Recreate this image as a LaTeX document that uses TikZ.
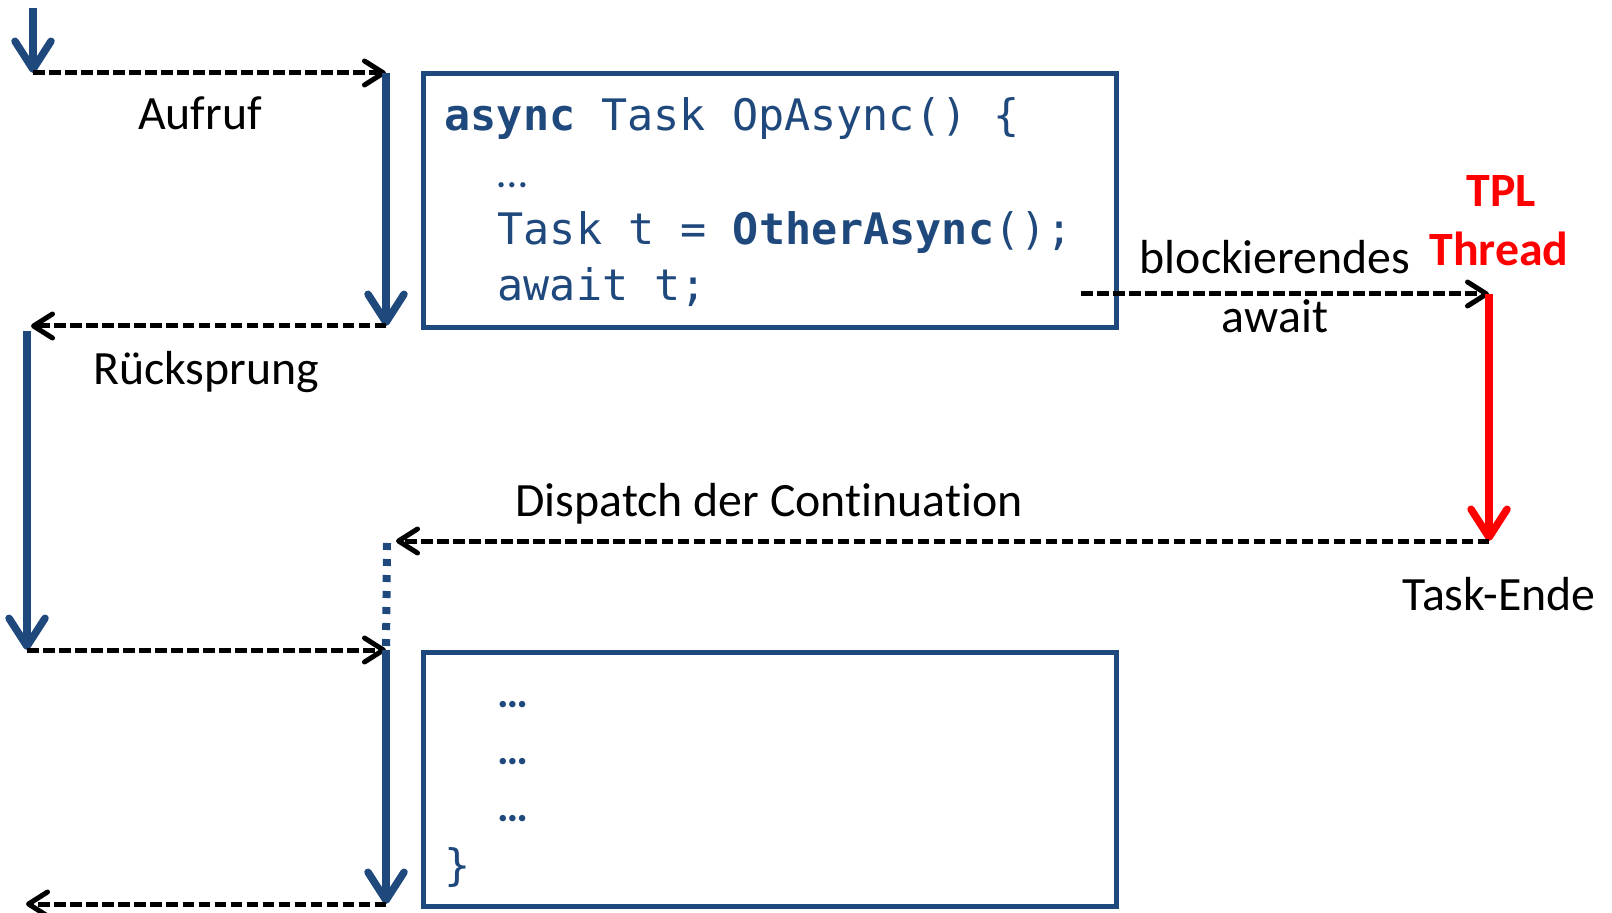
\documentclass[tikz,border=0pt]{standalone}
\usepackage{fontspec}
\setmainfont[Ligatures={NoCommon,NoRare,NoContextual}, Contextuals=NoAlternate]{Carlito}
\newfontfamily\codefont{DejaVu Sans Mono}
\usetikzlibrary{arrows.meta}
\definecolor{codeblue}{HTML}{1F497D}

\begin{document}
\begin{tikzpicture}[
	flow/.style={codeblue, line width=0.075cm, -{Straight Barb[length=0.28cm, width=0.36cm, round]}},
	jump/.style={black, line width=0.05cm, dash pattern=on 0.115cm off 0.045cm, -{Straight Barb[length=0.19cm, width=0.24cm, round]}},
	codebox/.style={draw=codeblue, line width=0.05cm, anchor=north west, minimum width=6.93cm, minimum height=2.54cm, inner sep=0, outer sep=0},
	code/.style={codeblue, anchor=base west, inner sep=0, font=\codefont\fontsize{12.35}{14}\selectfont},
	dots/.style={codeblue, anchor=base west, inner sep=0, font=\fontsize{12.35}{14}\selectfont},
	lbl/.style={inner sep=0, font=\fontsize{13.6}{16}\selectfont}
]
	\useasboundingbox (0,0) rectangle (16.12,9.12);

%points of the flow
	\coordinate (top) at (0.33,9.04);
	\coordinate (call) at (0.33,8.39);
	\coordinate (opIn) at (3.86,8.39);
	\coordinate (opOut) at (3.86,5.86);
	\coordinate (back) at (0.31,5.86);
	\coordinate (mainGo) at (0.27,5.81);
	\coordinate (mainStop) at (0.27,2.62);
	\coordinate (resume) at (3.86,2.62);
	\coordinate (opEnd) at (3.86,0.08);
	\coordinate (backEnd) at (0.26,0.08);
	\coordinate (awaitFrom) at (10.81,6.18);
	\coordinate (tplStart) at (14.89,6.18);
	\coordinate (tplEnd) at (14.89,3.71);
	\coordinate (dispatchTo) at (3.96,3.71);
	\coordinate (wake) at (3.87,3.69);

%code boxes
	\node[codebox] (op) at (4.23,8.38) {};
	\node[codebox] (rest) at (4.23,2.60) {};

	\node[code] (l1) at (4.44,7.81) {\textbf{async} Task OpAsync() \{};
	\node[dots] (l2) at (4.97,7.24) {…};
	\node[code] (l3) at (4.97,6.67) {Task t = \textbf{OtherAsync}();};
	\node[code] (l4) at (4.97,6.11) {await t;};

	\foreach \y/\n in {2.05/a, 1.48/b, 0.91/c}{
		\node[dots] (dots\n) at (4.97,\y) {\textbf{…}};
	}
	\node[code] (close) at (4.44,0.32) {\}};

%labels
	\node[lbl] (aufruf) at (2.00,7.99) {Aufruf};
	\node[lbl] (ruecksprung) at (2.06,5.40) {Rücksprung};
	\node[lbl] (dispatch) at (7.69,4.08) {Dispatch der Cont\kern0pt inuat\kern0pt ion};
	\node[lbl] (block) at (12.75,6.55) {blockierendes};
	\node[lbl] (await) at (12.75,5.96) {await};
	\node[lbl, red, font=\fontsize{13.6}{16}\selectfont\bfseries] (tpl) at (15.01,7.21) {TPL};
	\node[lbl, red, font=\fontsize{13.6}{16}\selectfont\bfseries] (thread) at (14.99,6.63) {Thread};
	\node[lbl] (ende) at (14.99,3.18) {Task-Ende};

%arrows
	\draw[flow] (top) -- (call);
	\draw[jump] (call) -- (opIn);
	\draw[flow] (opIn) -- (opOut);
	\draw[jump] (opOut) -- (back);
	\draw[flow] (mainGo) -- (mainStop);
	\draw[jump] (mainStop) -- (resume);
	\draw[flow] (resume) -- (opEnd);
	\draw[jump] (opEnd) -- (backEnd);
	\draw[jump] (awaitFrom) -- (tplStart);
	\draw[flow, red] (tplStart) -- (tplEnd);
	\draw[jump] (tplEnd) -- (dispatchTo);
	\draw[codeblue, line width=0.08cm, dash pattern=on 0.07cm off 0.09cm] (wake) -- (resume);

\end{tikzpicture}
\end{document}
